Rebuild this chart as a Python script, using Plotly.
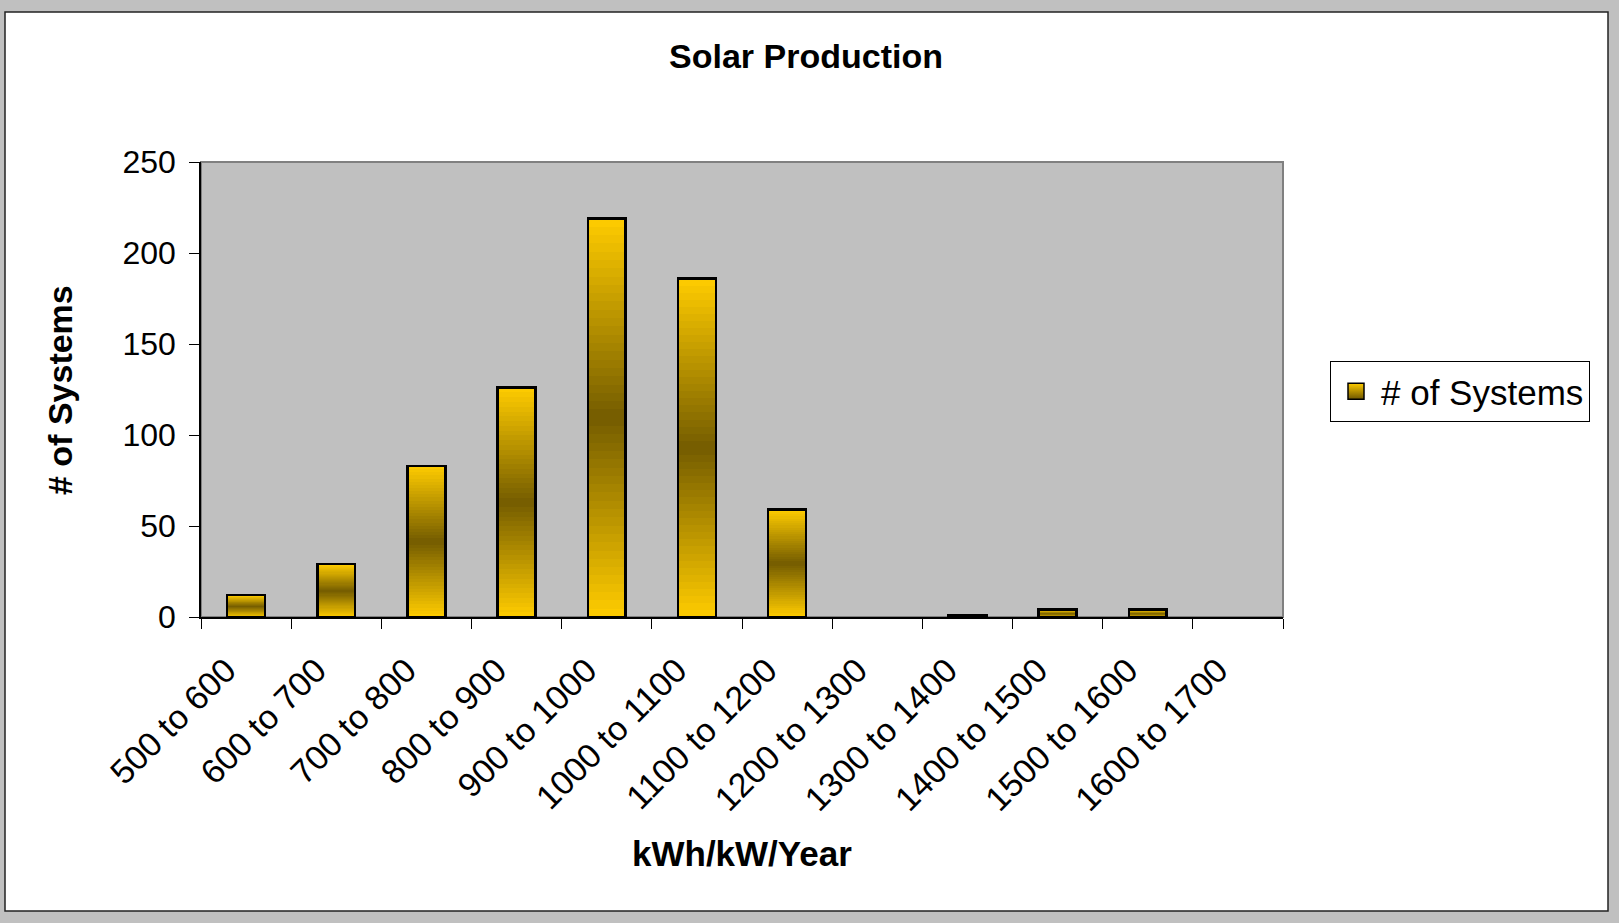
import plotly.graph_objects as go

# ---- data ----
categories = ["500 to 600", "600 to 700", "700 to 800", "800 to 900", "900 to 1000",
              "1000 to 1100", "1100 to 1200", "1200 to 1300", "1300 to 1400",
              "1400 to 1500", "1500 to 1600", "1600 to 1700"]
systems = [12, 29, 83, 126, 219, 186, 59, 0, 1, 4, 4, 0]
y_ticks = [0, 50, 100, 150, 200, 250]
series_name = "# of Systems"

# ---- styling ----
FONT = "Liberation Sans, Arial, sans-serif"
GOLD = (255, 204, 0)
DARK = (116, 92, 0)
N_SEG = 48  # gradient slices per bar


def blend(w):
    r = [round(g + (d - g) * w) for g, d in zip(GOLD, DARK)]
    return "rgb(%d,%d,%d)" % tuple(r)


fig = go.Figure()

# gradient fill: each bar is stacked from thin slices of its own value
for k in range(N_SEG):
    t = (k + 0.5) / N_SEG
    w = 1 - abs(2 * t - 1)
    fig.add_trace(go.Bar(
        x=categories, y=[v / N_SEG for v in systems],
        marker=dict(color=blend(w), line=dict(width=0)),
        showlegend=False, hoverinfo="skip"))

# bar outlines (zero-height bars are not drawn)
fig.add_trace(go.Bar(
    x=categories, y=[v if v else None for v in systems], xaxis="x2", name=series_name,
    marker=dict(color="rgba(0,0,0,0)", line=dict(color="black", width=2.5)),
    showlegend=False))

# legend entry
fig.add_trace(go.Scatter(
    x=[None], y=[None], mode="markers", name=series_name,
    marker=dict(symbol="square", size=16, color="#FFCC00",
                gradient=dict(type="vertical", color="#6E5600"),
                line=dict(color="black", width=1.5))))

L, R, T, B = 201, 1283, 162, 617
W, H = 1619, 923
pw, ph = R - L, B - T


def px(x):
    return (x - L) / pw


def py(y):
    return (B - y) / ph


fig.update_layout(
    width=W, height=H, autosize=False,
    margin=dict(l=L, r=W - R, t=T, b=H - B, pad=0),
    paper_bgcolor="#C0C0C0", plot_bgcolor="rgba(0,0,0,0)",
    barmode="stack", bargap=0.58,
    font=dict(family=FONT, size=32, color="black"),
    title=dict(text="<b>Solar Production</b>", x=806 / W, xref="container", xanchor="center",
               y=1 - 56 / H, yref="container", yanchor="middle",
               font=dict(family=FONT, size=34, color="black")),
    showlegend=True,
    legend=dict(x=px(1330), y=py(361), xanchor="left", yanchor="top",
                bgcolor="white", bordercolor="black", borderwidth=1,
                itemwidth=40,
                font=dict(family=FONT, size=35, color="black")),
    xaxis=dict(type="category", tickson="boundaries", ticks="outside", ticklen=10,
               tickcolor="black", tickwidth=1, showline=True, linecolor="black",
               linewidth=1.5, tickangle=-45, showgrid=False, zeroline=False,
               ticklabelstandoff=18, ticklabelshift=-20,
               tickfont=dict(family=FONT, size=34, color="black")),
    xaxis2=dict(type="category", overlaying="x", matches="x", visible=False),
    yaxis=dict(range=[0, 250], tickvals=y_ticks, ticks="outside", ticklen=10,
               tickcolor="black", tickwidth=1, showline=True, linecolor="black",
               linewidth=1.5, showgrid=False, zeroline=False,
               ticklabelstandoff=7,
               tickfont=dict(family=FONT, size=32, color="black")),
    shapes=[
        dict(type="rect", xref="paper", yref="paper", layer="below",
             x0=px(5), x1=px(1608), y0=py(911), y1=py(12),
             fillcolor="white", line=dict(color="#222222", width=1.5)),
        dict(type="rect", xref="paper", yref="paper", layer="below",
             x0=0, x1=1, y0=0, y1=1,
             fillcolor="#C0C0C0", line=dict(color="#808080", width=2)),
    ],
    annotations=[
        dict(text="<b>kWh/kW/Year</b>", xref="paper", yref="paper",
             x=0.5, y=py(853), xanchor="center", yanchor="middle", showarrow=False,
             font=dict(family=FONT, size=35, color="black")),
        dict(text="<b># of Systems</b>", xref="paper", yref="paper",
             x=px(60), y=py(390), xanchor="center", yanchor="middle", showarrow=False,
             textangle=-90, font=dict(family=FONT, size=34, color="black")),
    ],
)

fig.write_html("out.html", config={"displayModeBar": False},
               post_script="document.body.style.margin='0';document.body.style.overflow='hidden';")
